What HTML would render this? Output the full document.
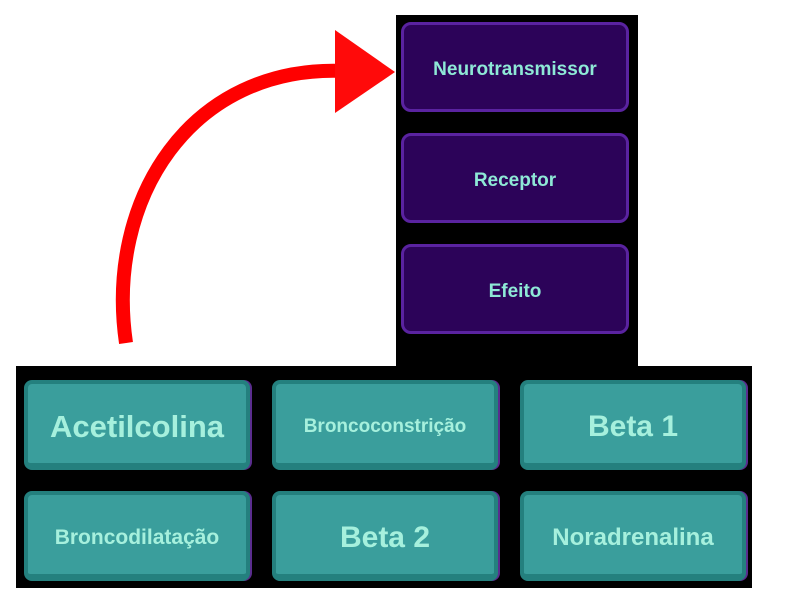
<!DOCTYPE html>
<html><head><meta charset="utf-8"><style>
body{margin:0;width:800px;height:609px;background:#fff;position:relative;overflow:hidden;font-family:"Liberation Sans","DejaVu Sans",sans-serif}
.panel{position:absolute;background:#000}
.p{position:absolute;width:228px;height:90px;box-sizing:border-box;background:#2c0359;border:3px solid #5a23a0;border-radius:10px;color:#8ee8d6;font-weight:bold;font-size:19px;display:flex;align-items:center;justify-content:center;padding-top:6px}
.t{position:absolute;width:226px;height:90px;box-sizing:border-box;background:#3a9e9c;border:4px solid #24807e;border-bottom-width:7px;border-radius:8px;color:#a6f0dd;font-weight:bold;display:flex;align-items:center;justify-content:center;box-shadow:2px 0 0 #5a2d8e;padding-top:6px}
</style></head><body>
<div class="panel" style="left:396px;top:15px;width:242px;height:355px"></div>
<div class="panel" style="left:16px;top:366px;width:736px;height:222px"></div>
<div class="p" style="left:401px;top:22px">Neurotransmissor</div>
<div class="p" style="left:401px;top:133px">Receptor</div>
<div class="p" style="left:401px;top:244px">Efeito</div>
<div class="t" style="left:24px;top:380px;font-size:31px">Acetilcolina</div>
<div class="t" style="left:272px;top:380px;font-size:19px">Broncoconstrição</div>
<div class="t" style="left:520px;top:380px;font-size:30px">Beta 1</div>
<div class="t" style="left:24px;top:491px;font-size:21px">Broncodilatação</div>
<div class="t" style="left:272px;top:491px;font-size:30px">Beta 2</div>
<div class="t" style="left:520px;top:491px;font-size:24px">Noradrenalina</div>
<svg width="800" height="609" style="position:absolute;left:0;top:0">
<path d="M126,343 C105,200 190,64 345,71" fill="none" stroke="#ff0000" stroke-width="14"/>
<polygon points="335,30 395,72 335,113" fill="#ff0a0a"/>
</svg>
</body></html>
